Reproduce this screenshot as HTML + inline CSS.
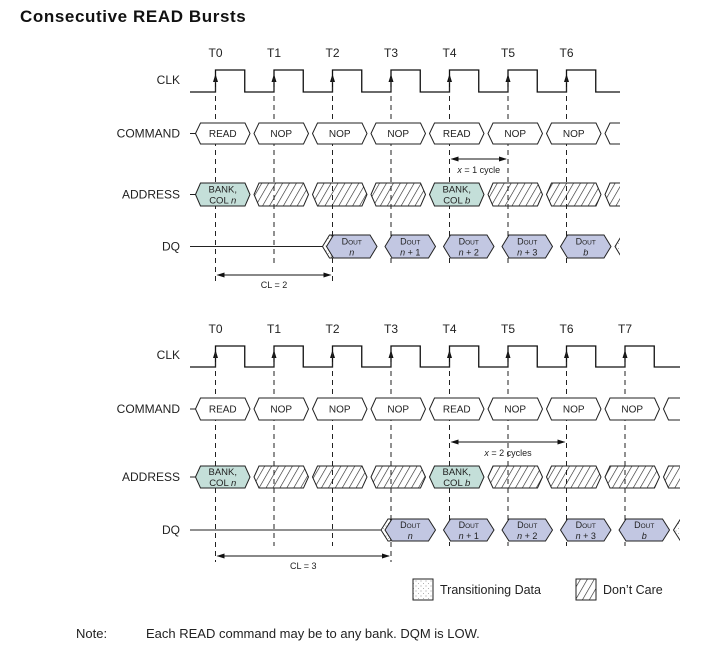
<!DOCTYPE html>
<html><head><meta charset="utf-8"><style>
body{margin:0;background:#fff;width:714px;height:645px;overflow:hidden;font-family:"Liberation Sans",sans-serif}
svg{position:absolute;left:0;top:0}
</style></head><body>
<svg id="s" width="714" height="645" xmlns="http://www.w3.org/2000/svg">
<defs>
<pattern id="hatch" patternUnits="userSpaceOnUse" width="6" height="6" patternTransform="rotate(30)">
<line x1="0" y1="0" x2="0" y2="6" stroke="#222" stroke-width="1.2"/></pattern>
<pattern id="dots" patternUnits="userSpaceOnUse" width="5" height="5">
<circle cx="1" cy="1" r="0.5" fill="#777"/><circle cx="3.5" cy="3.5" r="0.5" fill="#999"/></pattern>
<clipPath id="c1"><rect x="0" y="0" width="620" height="300"/></clipPath>
<clipPath id="c2"><rect x="0" y="300" width="680" height="280"/></clipPath>
</defs>
<text x="20" y="22" font-size="17" letter-spacing="0.6" font-weight="bold" fill="#111">Consecutive READ Bursts</text>
<g>
<rect x="413" y="579" width="20" height="21" fill="url(#dots)" stroke="#222"/>
<text x="440" y="594" font-size="12.5" fill="#222">Transitioning Data</text>
<rect x="576" y="579" width="20" height="21" fill="url(#hatch)" stroke="#222"/>
<text x="603" y="594" font-size="12.5" fill="#222">Don’t Care</text>
</g>
<text x="76" y="638" font-size="13" fill="#222">Note:</text>
<text x="146" y="638" font-size="13" fill="#222">Each READ command may be to any bank. DQM is LOW.</text>
</svg>
<script>
const commands1=["READ","NOP","NOP","NOP","READ","NOP","NOP",""];
const address1=["BANK,|COL n","X","X","X","BANK,|COL b","X","X","X"];
const dq1=["","","D|n","D|n + 1","D|n + 2","D|n + 3","D|b",""];
const commands2=["READ","NOP","NOP","NOP","READ","NOP","NOP","NOP",""];
const address2=["BANK,|COL n","X","X","X","BANK,|COL b","X","X","X","X"];
const dq2=["","","","D|n","D|n + 1","D|n + 2","D|n + 3","D|b",""];
const NS="http://www.w3.org/2000/svg";
const svg=document.getElementById('s');
const T0=215.5,P=58.5;
const tx=i=>T0+i*P;
function el(tag,attrs,parent){const e=document.createElementNS(NS,tag);for(const k in attrs)e.setAttribute(k,attrs[k]);(parent||svg).appendChild(e);return e;}
function hex(x1,x2,y1,y2,ins,fill,parent){const m=(y1+y2)/2;
return el('polygon',{points:`${x1},${m} ${x1+ins},${y1} ${x2-ins},${y1} ${x2},${m} ${x2-ins},${y2} ${x1+ins},${y2}`,fill:fill,stroke:'#222','stroke-width':1},parent);}
function label(x,y,t,parent,size){const e=el('text',{x:x,y:y,'font-size':size||10,'text-anchor':'middle',fill:'#222'},parent);
const m=t.match(/^(.*?)(n|b)$/);if(m&&t.indexOf('COL')>=0){e.textContent=m[1];const s=el('tspan',{'font-style':'italic'},e);s.textContent=m[2];}else e.textContent=t;return e;}
function diagram(cfg){
const g=el('g',{'clip-path':`url(#${cfg.clip})`});


for(let i=0;i<cfg.nT;i++){const t=el('text',{x:tx(i),y:cfg.ty,'font-size':12,'text-anchor':'middle',fill:'#222'},svg);t.textContent='T'+i;

}
[["CLK",cfg.clk[2]],["COMMAND",(cfg.cmd[0]+cfg.cmd[1])/2],["ADDRESS",(cfg.adr[0]+cfg.adr[1])/2],["DQ",(cfg.dq[0]+cfg.dq[1])/2]].forEach(r=>{
const t=el('text',{x:180,y:r[1]+4,'font-size':12,'text-anchor':'end',fill:'#222'},svg);t.textContent=r[0];

});
const [hi,lo]=cfg.clk;let d=`M190,${lo}`;
for(let i=0;i<cfg.nT+1;i++){const x=tx(i);d+=` L${x},${lo} L${x},${hi} L${x+P/2},${hi} L${x+P/2},${lo}`;}
const c=el('path',{d:d,fill:'none',stroke:'#111','stroke-width':1.3},g);


for(let i=0;i<cfg.nT;i++){el('polygon',{points:`${tx(i)-2.5},${hi+12} ${tx(i)+2.5},${hi+12} ${tx(i)},${hi+4}`,fill:'#111'},g);}
for(let i=0;i<cfg.nT;i++){const long=cfg.long.includes(i);
const l=el('line',{x1:tx(i),y1:lo-14,x2:tx(i),y2:long?cfg.clY+6:cfg.dq[1]+5,stroke:'#222','stroke-dasharray':'5,4','stroke-width':1},g);

}
const cm=(cfg.cmd[0]+cfg.cmd[1])/2;
el('line',{x1:190,y1:cm,x2:196,y2:cm,stroke:'#222'},g);
cfg.cmds.forEach((t,i)=>{const b=tx(i)-22,b2=tx(i+1)-22;const h=hex(b+2,b2-2,cfg.cmd[0],cfg.cmd[1],5,'#fff',g);


if(t)label((b+b2)/2,cm+3.5,t,g);});
const am=(cfg.adr[0]+cfg.adr[1])/2;
el('line',{x1:190,y1:am,x2:196,y2:am,stroke:'#222'},g);
cfg.adrs.forEach((t,i)=>{const b=tx(i)-22,b2=tx(i+1)-22;const h=hex(b+2,b2-2,cfg.adr[0],cfg.adr[1],5,t==='X'?'url(#hatch)':'#c4dfd9',g);


if(t!=='X'){const p=t.split('|');label((b+b2)/2,am-2,p[0],g,9.5);label((b+b2)/2,am+9,p[1],g,9.5);}});
const dm=(cfg.dq[0]+cfg.dq[1])/2;const first=cfg.dqs.findIndex(v=>v);
el('line',{x1:190,y1:dm,x2:tx(first)-10,y2:dm,stroke:'#222'},g);
cfg.dqs.forEach((t,i)=>{const b=tx(i)-10,b2=tx(i+1)-10;
if(i===first){hex(b,b+16,cfg.dq[0],cfg.dq[1],7,'url(#dots)',g);}
if(t){const h=hex(b+4,b2-4,cfg.dq[0],cfg.dq[1],7,'#c2c7e2',g);


const p=t.split('|');const x=(b+b2)/2;
const e=el('text',{x:x,y:dm-2,'font-size':9,'text-anchor':'middle',fill:'#222'},g);e.textContent='D';const s=el('tspan',{'font-size':6.5},e);s.textContent='OUT';
const e2=el('text',{x:x,y:dm+9,'font-size':9,'text-anchor':'middle',fill:'#222'},g);const it=el('tspan',{'font-style':'italic'},e2);it.textContent=p[1][0];const r=el('tspan',{},e2);r.textContent=p[1].slice(1);}
else if(i>first){hex(b,b+16,cfg.dq[0],cfg.dq[1],7,'url(#dots)',g);}});
function arrow(x1,x2,y,txt,ty,name){const a=el('g',{},g);
el('line',{x1:x1+2,y1:y,x2:x2-2,y2:y,stroke:'#111'},a);
el('polygon',{points:`${x1+1},${y} ${x1+9},${y-2.5} ${x1+9},${y+2.5}`,fill:'#111'},a);
el('polygon',{points:`${x2-1},${y} ${x2-9},${y-2.5} ${x2-9},${y+2.5}`,fill:'#111'},a);
const t=el('text',{x:(x1+x2)/2,y:ty,'font-size':9,'text-anchor':'middle',fill:'#222'},a);const it=el('tspan',{'font-style':'italic'},t);it.textContent='x';const r=el('tspan',{},t);r.textContent=txt;return t;}
arrow(tx(4),tx(4+cfg.x),cfg.xY,cfg.x===1?' = 1 cycle':' = 2 cycles',cfg.xY+14,'x-cycles-arrow');
const ca=arrow(tx(0),tx(cfg.cl),cfg.clY,'',cfg.clY+13,'cas-latency-arrow');ca.textContent='CL = '+cfg.cl;
}
diagram({name:'diagram-cl2',clip:'c1',cmds:commands1,adrs:address1,dqs:dq1,nT:7,ty:57,clk:[70,92,80],cmd:[123,144],adr:[183,206],dq:[235,258],long:[0,2],clY:275,xY:159,x:1,cl:2});
diagram({name:'diagram-cl3',clip:'c2',cmds:commands2,adrs:address2,dqs:dq2,nT:8,ty:333,clk:[346,367,355],cmd:[398,420],adr:[466,488],dq:[519,541],long:[0,3],clY:556,xY:442,x:2,cl:3});
</script>
</body></html>
